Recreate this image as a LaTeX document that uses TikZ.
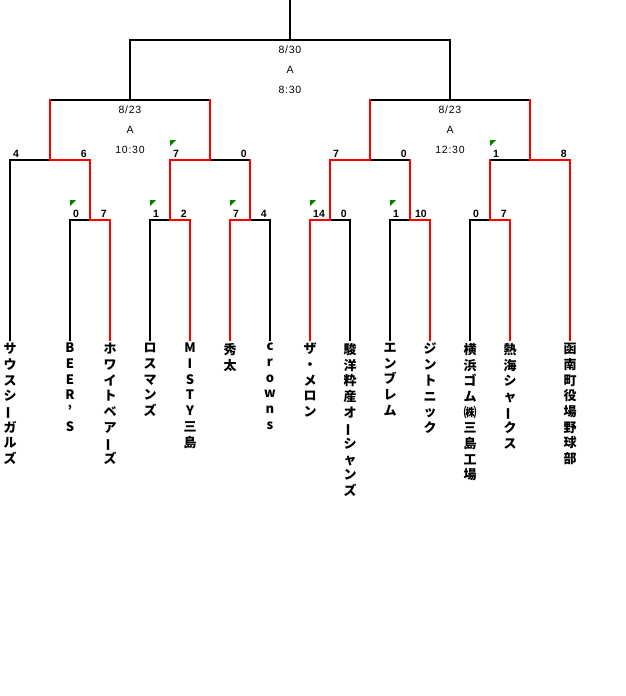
\documentclass[tikz,border=0pt]{standalone}
\usepackage{fontspec}
\usepackage{graphicx}
\setmainfont{Liberation Sans}
\newfontfamily\jpfont{Noto Sans CJK JP}
\newfontfamily\infofont[LetterSpace=7]{Liberation Sans}
\usetikzlibrary{positioning}
\newcommand{\cho}{\rotatebox[origin=c]{90}{ー}}

\begin{document}
\begin{tikzpicture}[x=1pt,y=-1pt,
    win/.style={red,line width=2pt,line cap=rect},
    lose/.style={black,line width=2pt,line cap=rect},
    team/.style={inner sep=0pt,anchor=north,align=center,font=\jpfont\bfseries\fontsize{13}{15.7}\selectfont,execute at begin node={\vphantom{国}}},
    score/.style={inner sep=0pt,font=\bfseries\fontsize{10.5}{12}\selectfont},
    info/.style={inner sep=0pt,align=center,font=\infofont\fontsize{10.5}{20}\selectfont},
    flag/.style={fill=green!50!black}]
  \useasboundingbox (0,0) rectangle (626,696);

  % leaves
  \coordinate (l1) at (10,340);  \coordinate (l2) at (70,340);
  \coordinate (l3) at (110,340); \coordinate (l4) at (150,340);
  \coordinate (l5) at (190,340); \coordinate (l6) at (230,340);
  \coordinate (l7) at (270,340); \coordinate (l8) at (310,340);
  \coordinate (l9) at (350,340); \coordinate (l10) at (390,340);
  \coordinate (l11) at (430,340); \coordinate (l12) at (470,340);
  \coordinate (l13) at (510,340); \coordinate (l14) at (570,340);
  % junctions
  \coordinate (a1) at (90,220);  \coordinate (a2) at (170,220);
  \coordinate (a3) at (250,220); \coordinate (a4) at (330,220);
  \coordinate (a5) at (410,220); \coordinate (a6) at (490,220);
  \coordinate (b1) at (50,160);  \coordinate (b2) at (210,160);
  \coordinate (b3) at (370,160); \coordinate (b4) at (530,160);
  \coordinate (c1) at (130,100); \coordinate (c2) at (450,100);
  \coordinate (fin) at (290,40); \coordinate (top) at (290,0);

  \node[team] (sagulls)  at (10,343)  {サ\\ウ\\ス\\シ\\\cho\\ガ\\ル\\ズ};
  \node[team] (beers)    at (70,343)  {B\\E\\E\\R\\’\\S};
  \node[team] (wbears)   at (110,343) {ホ\\ワ\\イ\\ト\\ベ\\ア\\\cho\\ズ};
  \node[team] (rosmans)  at (150,343) {ロ\\ス\\マ\\ン\\ズ};
  \node[team] (misty)    at (190,343) {M\\I\\S\\T\\Y\\三\\島};
  \node[team] (shuta)    at (230,343) {秀\\太};
  \node[team] (crowns)   at (270,343) {c\\r\\o\\w\\n\\s};
  \node[team] (melon)    at (310,343) {ザ\\・\\メ\\ロ\\ン};
  \node[team] (oceans)   at (350,343) {駿\\洋\\粋\\産\\オ\\\cho\\シ\\ャ\\ン\\ズ};
  \node[team] (emblem)   at (390,343) {エ\\ン\\ブ\\レ\\ム};
  \node[team] (gintonic) at (430,343) {ジ\\ン\\ト\\ニ\\ッ\\ク};
  \node[team] (yrubber)  at (470,343) {横\\浜\\ゴ\\ム\\㈱\\三\\島\\工\\場};
  \node[team] (sharks)   at (510,343) {熱\\海\\シ\\ャ\\\cho\\ク\\ス};
  \node[team] (kannami)  at (570,343) {函\\南\\町\\役\\場\\野\\球\\部};

  % first round
  \draw[lose] (l2) |- (a1);  \draw[win] (l3) |- (a1);
  \draw[lose] (l4) |- (a2);  \draw[win] (l5) |- (a2);
  \draw[lose] (l7) |- (a3);  \draw[win] (l6) |- (a3);
  \draw[lose] (l9) |- (a4);  \draw[win] (l8) |- (a4);
  \draw[lose] (l10) |- (a5); \draw[win] (l11) |- (a5);
  \draw[lose] (l12) |- (a6); \draw[win] (l13) |- (a6);
  % second round
  \draw[lose] (l1) |- (b1);  \draw[win] (a1) |- (b1);
  \draw[lose] (a3 |- b2) -- (b2); \draw[win] (a3) -- (a3 |- b2);
  \draw[win] (a2) |- (b2);
  \draw[lose] (a5 |- b3) -- (b3); \draw[win] (a5) -- (a5 |- b3);
  \draw[win] (a4) |- (b3);
  \draw[lose] (a6 |- b4) -- (b4); \draw[win] (a6) -- (a6 |- b4);
  \draw[win] (l14) |- (b4);
  % semis and final
  \draw[lose] (b1 |- c1) -- (c1); \draw[win] (b1) -- (b1 |- c1);
  \draw[lose] (b2 |- c1) -- (c1); \draw[win] (b2) -- (b2 |- c1);
  \draw[lose] (b3 |- c2) -- (c2); \draw[win] (b3) -- (b3 |- c2);
  \draw[lose] (b4 |- c2) -- (c2); \draw[win] (b4) -- (b4 |- c2);
  \draw[lose] (c1) |- (fin); \draw[lose] (c2) |- (fin);
  \draw[lose] (fin) -- (top);

  \node[info] (finalinfo) at (290,70)  {8/30\\A\\8:30};
  \node[info] (semi1info) at (130,130) {8/23\\A\\10:30};
  \node[info] (semi2info) at (450,130) {8/23\\A\\12:30};

  \node[score,anchor=west] (s1) at (13,154)  {4};
  \node[score,anchor=east] (s2) at (87,154)  {6};
  \node[score,anchor=west] (s3) at (173,154) {7};
  \node[score,anchor=east] (s4) at (247,154) {0};
  \node[score,anchor=west] (s5) at (333,154) {7};
  \node[score,anchor=east] (s6) at (407,154) {0};
  \node[score,anchor=west] (s7) at (493,154) {1};
  \node[score,anchor=east] (s8) at (567,154) {8};
  \node[score,anchor=west] (r1) at (73,214)  {0};
  \node[score,anchor=east] (r2) at (107,214) {7};
  \node[score,anchor=west] (r3) at (153,214) {1};
  \node[score,anchor=east] (r4) at (187,214) {2};
  \node[score,anchor=west] (r5) at (233,214) {7};
  \node[score,anchor=east] (r6) at (267,214) {4};
  \node[score,anchor=west] (r7) at (313,214) {14};
  \node[score,anchor=east] (r8) at (347,214) {0};
  \node[score,anchor=west] (r9) at (393,214) {1};
  \node[score,anchor=east] (r10) at (427,214) {10};
  \node[score,anchor=west] (r11) at (473,214) {0};
  \node[score,anchor=east] (r12) at (507,214) {7};

  % flags
  \fill[flag] (170,140) -- ++(6,0) -- ++(-6,6) -- cycle;
  \fill[flag] (490,140) -- ++(6,0) -- ++(-6,6) -- cycle;
  \fill[flag] (70,200) -- ++(6,0) -- ++(-6,6) -- cycle;
  \fill[flag] (150,200) -- ++(6,0) -- ++(-6,6) -- cycle;
  \fill[flag] (230,200) -- ++(6,0) -- ++(-6,6) -- cycle;
  \fill[flag] (310,200) -- ++(6,0) -- ++(-6,6) -- cycle;
  \fill[flag] (390,200) -- ++(6,0) -- ++(-6,6) -- cycle;
\end{tikzpicture}
\end{document}
